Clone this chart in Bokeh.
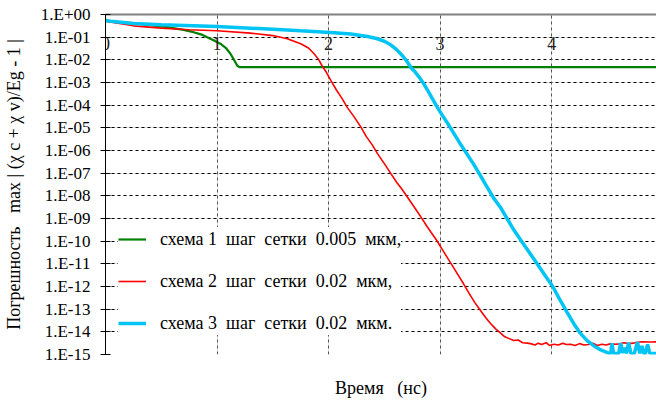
import numpy as np
from bokeh.plotting import figure
from bokeh.models import (Range1d, FixedTicker, LinearAxis, LogAxis, Grid, Legend, LegendItem)
from bokeh.core.properties import value
from bokeh.embed import file_html
from bokeh.resources import INLINE

# ---------------- data (errors given as log10 values) ----------------
green_t = [0.0, 0.04, 0.25, 0.55, 0.70, 0.79, 0.87, 0.94, 1.03, 1.08, 1.12, 1.15, 1.18, 1.20, 4.94]
green_log10 = [-0.22, -0.32, -0.38, -0.56, -0.68, -0.78, -0.90, -1.07, -1.29, -1.48, -1.73, -1.98, -2.25, -2.32, -2.32]

red_t = [0.0, 0.25, 0.5, 0.75, 1.0, 1.3, 1.5, 1.63, 1.75, 1.82, 1.87, 1.91, 1.94, 1.98,
         2.02, 2.07, 2.12, 2.17, 2.22, 2.29, 2.34, 2.39, 2.44, 2.50, 2.56, 2.61, 2.66, 2.72,
         2.78, 2.83, 2.88, 2.92, 2.97, 3.03, 3.08, 3.14, 3.21, 3.26, 3.31, 3.36, 3.41, 3.45,
         3.50, 3.54, 3.58, 3.62, 3.66, 3.70, 3.74, 3.78, 3.81, 3.85, 3.88, 3.91, 3.95, 3.98,
         4.02, 4.06, 4.10, 4.13, 4.17, 4.21, 4.25, 4.29, 4.33, 4.37, 4.41, 4.45, 4.49, 4.53,
         4.57, 4.61, 4.65, 4.69, 4.73, 4.77, 4.81, 4.87, 4.90, 4.94]
red_log10 = [-0.30, -0.50, -0.60, -0.67, -0.72, -0.82, -0.93, -1.07, -1.29, -1.48, -1.73, -1.98, -2.25, -2.55,
             -2.91, -3.33, -3.70, -4.12, -4.45, -4.97, -5.40, -5.74, -6.15, -6.58, -7.03, -7.40, -7.72, -8.15,
             -8.58, -8.95, -9.33, -9.62, -9.97, -10.45, -10.85, -11.32, -11.88, -12.30, -12.70, -13.05, -13.38, -13.62,
             -13.88, -14.05, -14.22, -14.30, -14.38, -14.36, -14.48, -14.50, -14.52, -14.58, -14.50, -14.56, -14.48, -14.60,
             -14.55, -14.58, -14.50, -14.56, -14.55, -14.60, -14.52, -14.58, -14.56, -14.50, -14.60, -14.55, -14.58, -14.52,
             -14.55, -14.53, -14.48, -14.52, -14.50, -14.46, -14.44, -14.45, -14.45, -14.44]

cyan_t = [0.0, 0.05, 0.25, 0.5, 1.0, 1.5, 1.75, 2.05, 2.2, 2.35, 2.43, 2.50, 2.56, 2.61, 2.65, 2.70,
          2.74, 2.77, 2.81, 2.85, 2.90, 2.97, 3.02, 3.08, 3.13, 3.18, 3.24, 3.30, 3.36, 3.42, 3.48,
          3.54, 3.60, 3.66, 3.73, 3.80, 3.87, 3.94, 4.01, 4.07, 4.14, 4.20, 4.26, 4.32, 4.38, 4.44,
          4.50, 4.53, 4.54, 4.555, 4.60, 4.62, 4.635, 4.655, 4.67, 4.69, 4.71, 4.74, 4.77, 4.79,
          4.81, 4.825, 4.84, 4.86, 4.88, 4.91, 4.94]
cyan_log10 = [-0.27, -0.30, -0.40, -0.45, -0.53, -0.65, -0.72, -0.80, -0.86, -0.97, -1.06, -1.18, -1.35, -1.55, -1.75, -2.05,
              -2.35, -2.50, -2.75, -3.03, -3.45, -4.05, -4.45, -4.90, -5.30, -5.70, -6.15, -6.60, -7.10, -7.60, -8.10,
              -8.50, -9.00, -9.50, -10.00, -10.50, -11.00, -11.50, -12.00, -12.55, -13.15, -13.65, -14.08, -14.40, -14.62, -14.80,
              -14.92, -14.96, -14.50, -14.95, -14.96, -14.50, -14.93, -14.70, -14.95, -14.48, -14.95, -14.97, -14.45, -14.95,
              -14.62, -14.96, -14.95, -14.55, -14.95, -14.96, -14.95]

series_labels = ["схема 1  шаг  сетки  0.005  мкм,",
                 "схема 2  шаг  сетки  0.02  мкм,",
                 "схема 3  шаг  сетки  0.02  мкм."]

y_ticks = [1e0, 1e-1, 1e-2, 1e-3, 1e-4, 1e-5, 1e-6, 1e-7, 1e-8, 1e-9, 1e-10, 1e-11, 1e-12, 1e-13, 1e-14, 1e-15]
y_tick_labels = ["1.E+00", "1.E-01", "1.E-02", "1.E-03", "1.E-04", "1.E-05", "1.E-06", "1.E-07",
                 "1.E-08", "1.E-09", "1.E-10", "1.E-11", "1.E-12", "1.E-13", "1.E-14", "1.E-15"]
x_ticks = [0, 1, 2, 3, 4]
x_tick_labels = ["0", "1", "2", "3", "4"]

x_title = "Время   (нс)"
y_title = "Погрешность   max | (χ c + χ v)/Eg - 1 |"

FONT = "Liberation Serif"


def NB(s):
    return s.replace(" ", "\u00a0")


# ---------------- figure ----------------
p = figure(width=656, height=403, output_backend="svg", toolbar_location=None,
           y_axis_type="log", x_range=Range1d(0, 4.94), y_range=Range1d(1e-15, 1e0),
           min_border_left=105, min_border_right=0, min_border_top=14, min_border_bottom=49,
           x_axis_location=None, y_axis_location=None)
p.background_fill_color = "white"
p.border_fill_color = "white"
p.outline_line_color = None

yax = LogAxis(ticker=FixedTicker(ticks=y_ticks))
yax.major_label_overrides = {t: l for t, l in zip(y_ticks, y_tick_labels)}
yax.major_label_text_font = FONT
yax.major_label_text_font_size = "17px"
yax.major_label_text_color = "black"
yax.major_tick_in = 5
yax.major_tick_out = 5
yax.major_tick_line_color = "black"
yax.minor_tick_line_color = None
yax.axis_line_color = "black"
yax.major_label_standoff = 10
yax.axis_label = NB(y_title)
yax.axis_label_text_font = FONT
yax.axis_label_text_font_size = "18px"
yax.axis_label_text_font_style = "normal"
yax.axis_label_text_color = "black"
yax.axis_label_standoff = 14
p.add_layout(yax, "left")

xax = LinearAxis(ticker=FixedTicker(ticks=[]))
xax.axis_line_color = None
xax.major_tick_line_color = None
xax.minor_tick_line_color = None
xax.axis_label = NB(x_title)
xax.axis_label_text_font = FONT
xax.axis_label_text_font_size = "18px"
xax.axis_label_text_font_style = "normal"
xax.axis_label_text_color = "black"
xax.axis_label_standoff = 23
p.add_layout(xax, "below")

top = LinearAxis(ticker=FixedTicker(ticks=[]))
top.axis_line_color = "#808080"
top.axis_line_width = 2
top.major_tick_line_color = None
top.minor_tick_line_color = None
p.add_layout(top, "above")

# grids
hgrid = Grid(dimension=1, ticker=FixedTicker(ticks=y_ticks[1:]),
             grid_line_color="black", grid_line_dash="3 3", grid_line_width=1)
vgrid = Grid(dimension=0, ticker=FixedTicker(ticks=x_ticks[1:]),
             grid_line_color="#555555", grid_line_dash="3 3", grid_line_width=1)
p.add_layout(hgrid)
p.add_layout(vgrid)

# curves
g = p.line(green_t, 10 ** np.array(green_log10), line_color="#008000", line_width=2.2)
r = p.line(red_t, 10 ** np.array(red_log10), line_color="#ff0000", line_width=1.6)
c = p.line(cyan_t, 10 ** np.array(cyan_log10), line_color="#00c4f4", line_width=3.5)

# x tick labels drawn inside the plot just under the 1.E-01 grid line
p.text(x=x_ticks, y=[0.055] * len(x_ticks), text=x_tick_labels,
       text_font=value(FONT), text_font_size="18px", text_color="#222222",
       text_align="center", text_baseline="middle")

legend = Legend(items=[LegendItem(label=NB(series_labels[0]), renderers=[g]),
                       LegendItem(label=NB(series_labels[1]), renderers=[r]),
                       LegendItem(label=NB(series_labels[2]), renderers=[c])],
                location=(13, 19))
legend.background_fill_color = "white"
legend.background_fill_alpha = 1.0
legend.border_line_color = None
legend.label_text_font = FONT
legend.label_text_font_size = "18px"
legend.label_text_color = "black"
legend.glyph_width = 28
legend.glyph_height = 24
legend.label_height = 24
legend.label_standoff = 14
legend.spacing = 18
legend.padding = 10
legend.margin = 0
p.add_layout(legend, "center")

open("out.html", "w").write(file_html(p, INLINE))
